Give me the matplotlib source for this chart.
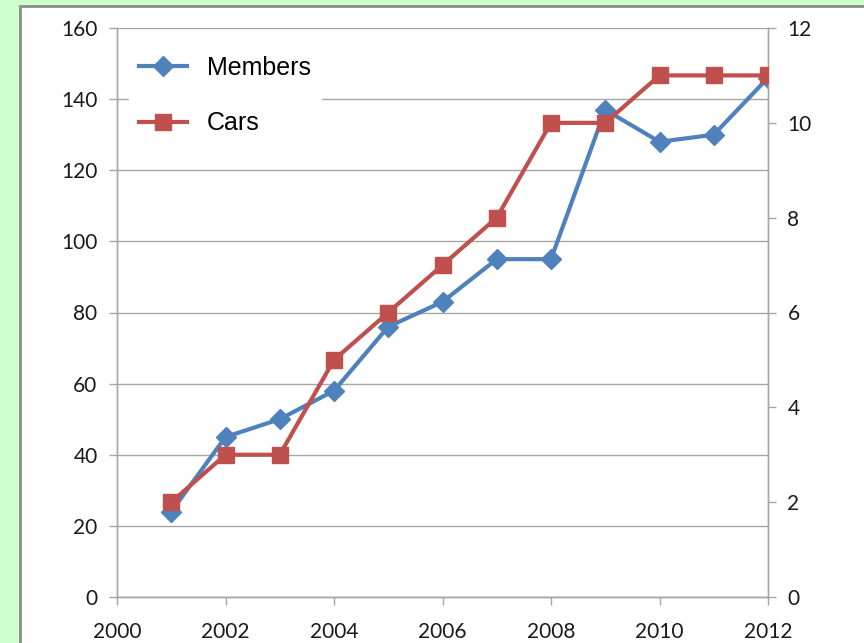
import matplotlib
matplotlib.use("Agg")
import matplotlib.pyplot as plt
from matplotlib.patches import Rectangle
from matplotlib.lines import Line2D

years = [2001, 2002, 2003, 2004, 2005, 2006, 2007, 2008, 2009, 2010, 2011, 2012]
members = [24, 45, 50, 58, 76, 83, 95, 95, 137, 128, 130, 146]
cars = [2, 3, 3, 5, 6, 7, 8, 10, 10, 11, 11, 11]
x_ticks = [2000, 2002, 2004, 2006, 2008, 2010, 2012]
left_ticks = [0, 20, 40, 60, 80, 100, 120, 140, 160]
right_ticks = [0, 2, 4, 6, 8, 10, 12]
labels = ["Members", "Cars"]

blue = "#4F81BD"
red = "#C0504D"
grid_c = "#A6A6A6"

fig = plt.figure(figsize=(8.64, 6.43), dpi=100)
fig.patch.set_facecolor("#CCFFCC")
W, H = 864, 643
panel = Rectangle((20 / W, -0.01), 1.0, 1 - 6 / H + 0.01, transform=fig.transFigure,
                  facecolor="white", edgecolor="#8C8C8C", linewidth=2.0, zorder=-10)
fig.patches.append(panel)

ax = fig.add_axes([117 / W, 1 - 597 / H, (768 - 117) / W, (597 - 28) / H])
ax.set_facecolor("none")
ax2 = ax.twinx()

ax.plot(years, members, color=blue, lw=3, marker="D", markersize=10, zorder=3)
ax2.plot(years, cars, color=red, lw=3, marker="s", markersize=12, zorder=3)

ax.set_xlim(2000, 2012)
ax.set_ylim(0, 160)
ax2.set_ylim(0, 12)
ax.set_xticks(x_ticks)
ax.set_yticks(left_ticks)
ax2.set_yticks(right_ticks)

ax.grid(axis="y", color=grid_c, lw=1.0)
ax.set_axisbelow(True)

for a in (ax, ax2):
    for s in a.spines.values():
        s.set_color(grid_c)
        s.set_linewidth(1.0)
    a.spines["top"].set_visible(False)
    a.tick_params(colors=grid_c, length=6, width=1.0, labelcolor="#1A1A1A", labelsize=15)
    for lbl in a.get_xticklabels() + a.get_yticklabels():
        lbl.set_family("Lato")
ax.tick_params(axis="y", pad=8)
ax2.tick_params(axis="y", pad=8)
ax.tick_params(axis="x", pad=12)

handles = [Line2D([], [], color=blue, lw=3, marker="D", markersize=10),
           Line2D([], [], color=red, lw=3, marker="s", markersize=12)]
leg = ax2.legend(handles, labels, loc="upper left", bbox_to_anchor=(0.0, 0.99),
                 prop=dict(family="Liberation Sans", size=18), frameon=True,
                 handlelength=1.9, handletextpad=0.8, labelspacing=1.25,
                 borderpad=0.4, fancybox=False)
leg.get_frame().set_edgecolor("white")
leg.get_frame().set_facecolor("white")
leg.get_frame().set_alpha(1.0)

fig.savefig("out.png", dpi=100, facecolor=fig.get_facecolor())
